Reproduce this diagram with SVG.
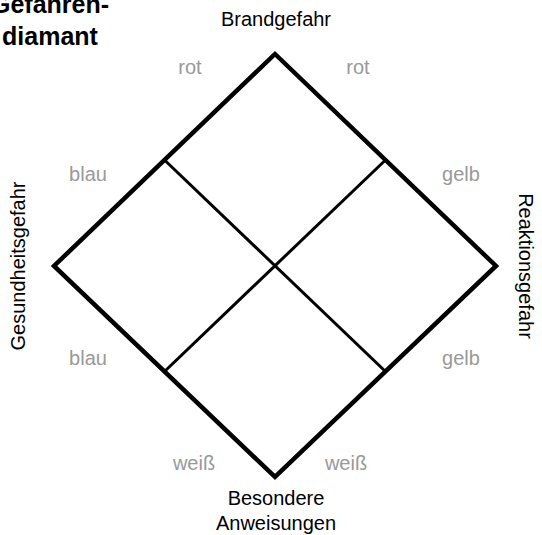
<svg xmlns="http://www.w3.org/2000/svg" width="542" height="535" viewBox="0 0 542 535">
<style>
text{font-family:"Liberation Sans",Arial,sans-serif;font-size:20px;text-anchor:middle}
.c{fill:#999}
.k{fill:#000}
.t{font-weight:bold;font-size:25px}
.o{fill:none;stroke:#000;stroke-width:4.5;stroke-linejoin:miter}
.i{fill:none;stroke:#000;stroke-width:3}
</style>
<rect width="542" height="535" fill="#fff"/>
<g id="title"><text class="k t" x="50" y="13">Gefahren-</text><text class="k t" x="50" y="45">diamant</text></g>
<g id="connectors">
<polygon class="o" points="275,54 496,266 275,477 54,266"/>
<line class="i" x1="164.5" y1="160" x2="385.5" y2="371.5"/>
<line class="i" x1="385.5" y1="160" x2="164.5" y2="371.5"/>
</g>
<g id="top"><text class="k" x="276" y="26">Brandgefahr</text><text class="c" x="190" y="74">rot</text><text class="c" x="358" y="74">rot</text></g>
<g id="left"><text class="k" transform="translate(25,266) rotate(-90)">Gesundheitsgefahr</text><text class="c" x="88" y="181">blau</text><text class="c" x="88" y="365">blau</text></g>
<g id="right"><text class="k" transform="translate(519,266) rotate(90)">Reaktionsgefahr</text><text class="c" x="461" y="181">gelb</text><text class="c" x="461" y="365">gelb</text></g>
<g id="bottom"><text class="k" x="276" y="505">Besondere</text><text class="k" x="276" y="530">Anweisungen</text><text class="c" x="194" y="470">weiß</text><text class="c" x="346" y="470">weiß</text></g>
</svg>
